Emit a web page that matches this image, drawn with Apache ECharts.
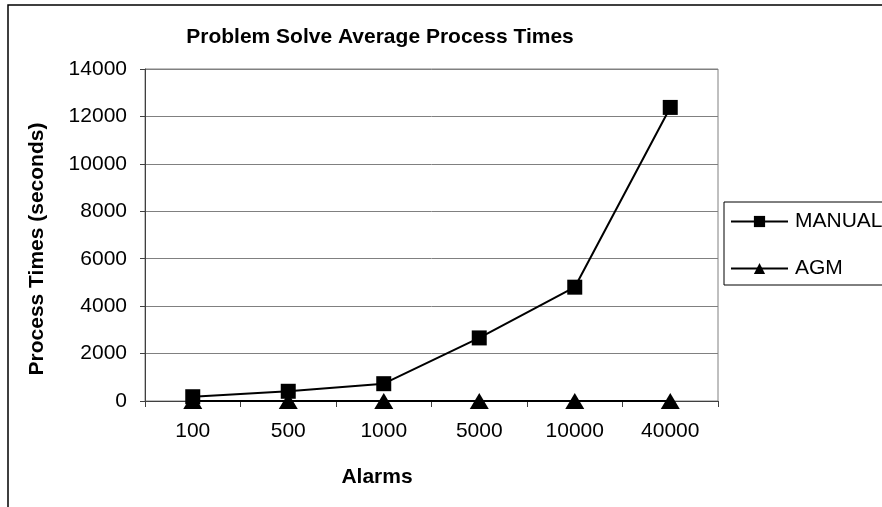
<!DOCTYPE html>
<html>
<head>
<meta charset="utf-8">
<script src="https://cdn.jsdelivr.net/npm/echarts@6/dist/echarts.min.js"></script>
<style>
  html, body { margin: 0; padding: 0; background: #fff; }
  #chart { width: 882px; height: 507px; }
</style>
</head>
<body>
<div id="chart"></div>
<script>
// Alarm volumes on the x axis
const categories = ['100', '500', '1000', '5000', '10000', '40000'];
// Average process times in seconds
const manualTimes = [180, 410, 730, 2660, 4800, 12380];
const agmTimes = [0, 0, 0, 0, 0, 0];
// Y axis range and step
const yMin = 0;
const yMax = 14000;
const yStep = 2000;

const titleText = 'Problem Solve Average Process Times';
const xName = 'Alarms';
const yName = 'Process Times (seconds)';

const FONT = '"Liberation Sans", Arial, sans-serif';

const chart = echarts.init(document.getElementById('chart'), null, { renderer: 'canvas' });

chart.setOption({
  backgroundColor: '#ffffff',
  animation: false,
  textStyle: { fontFamily: FONT },
  grid: {
    left: 145, right: 164, top: 69, bottom: 106,
    show: true, borderColor: '#808080', borderWidth: 1,
    containLabel: false
  },
  legend: {
    orient: 'vertical',
    left: 724, top: 202,
    padding: [9, 40, 6, 6],
    itemGap: 26,
    itemWidth: 57,
    itemHeight: 14,
    borderColor: '#000', borderWidth: 1,
    textStyle: { fontFamily: FONT, fontSize: 21, color: '#000', padding: [0, 0, 0, 2] },
    data: ['MANUAL', 'AGM']
  },
  xAxis: {
    type: 'category',
    data: categories,
    boundaryGap: true,
    axisLine: { show: true, lineStyle: { color: '#404040', width: 1 } },
    axisTick: { show: true, length: 6, lineStyle: { color: '#404040' } },
    axisLabel: { fontFamily: FONT, fontSize: 21, color: '#000', margin: 20 },
    splitLine: { show: false }
  },
  yAxis: {
    type: 'value',
    min: yMin, max: yMax, interval: yStep,
    axisLine: { show: true, lineStyle: { color: '#404040', width: 1 } },
    axisTick: { show: true, length: 5, lineStyle: { color: '#404040' } },
    axisLabel: {
      fontFamily: FONT, fontSize: 21, color: '#000', margin: 18,
      formatter: (v) => String(v)
    },
    splitLine: { show: true, lineStyle: { color: '#808080', width: 1 } }
  },
  series: [
    {
      name: 'MANUAL',
      type: 'line',
      data: manualTimes,
      symbol: 'rect',
      symbolSize: 15,
      lineStyle: { color: '#000', width: 2 },
      itemStyle: { color: '#000', borderWidth: 0 },
      z: 3
    },
    {
      name: 'AGM',
      type: 'line',
      data: agmTimes,
      symbol: 'triangle',
      symbolSize: [19, 16],
      lineStyle: { color: '#000', width: 2 },
      itemStyle: { color: '#000', borderWidth: 0 },
      z: 4
    }
  ],
  graphic: [
    {
      type: 'rect',
      shape: { x: 8, y: 5, width: 1000, height: 1000 },
      style: { fill: 'none', stroke: '#000', lineWidth: 1.5 },
      silent: true, z: -1
    },
    {
      type: 'text',
      x: 380, y: 37,
      style: {
        text: titleText, fontFamily: FONT, fontWeight: 'bold', fontSize: 21,
        fill: '#000', align: 'center', verticalAlign: 'middle'
      }
    },
    {
      type: 'text',
      x: 377, y: 477,
      style: {
        text: xName, fontFamily: FONT, fontWeight: 'bold', fontSize: 21,
        fill: '#000', align: 'center', verticalAlign: 'middle'
      }
    },
    {
      type: 'text',
      x: 37, y: 249,
      rotation: Math.PI / 2,
      style: {
        text: yName, fontFamily: FONT, fontWeight: 'bold', fontSize: 21,
        fill: '#000', align: 'center', verticalAlign: 'middle'
      }
    }
  ]
});
</script>
</body>
</html>
